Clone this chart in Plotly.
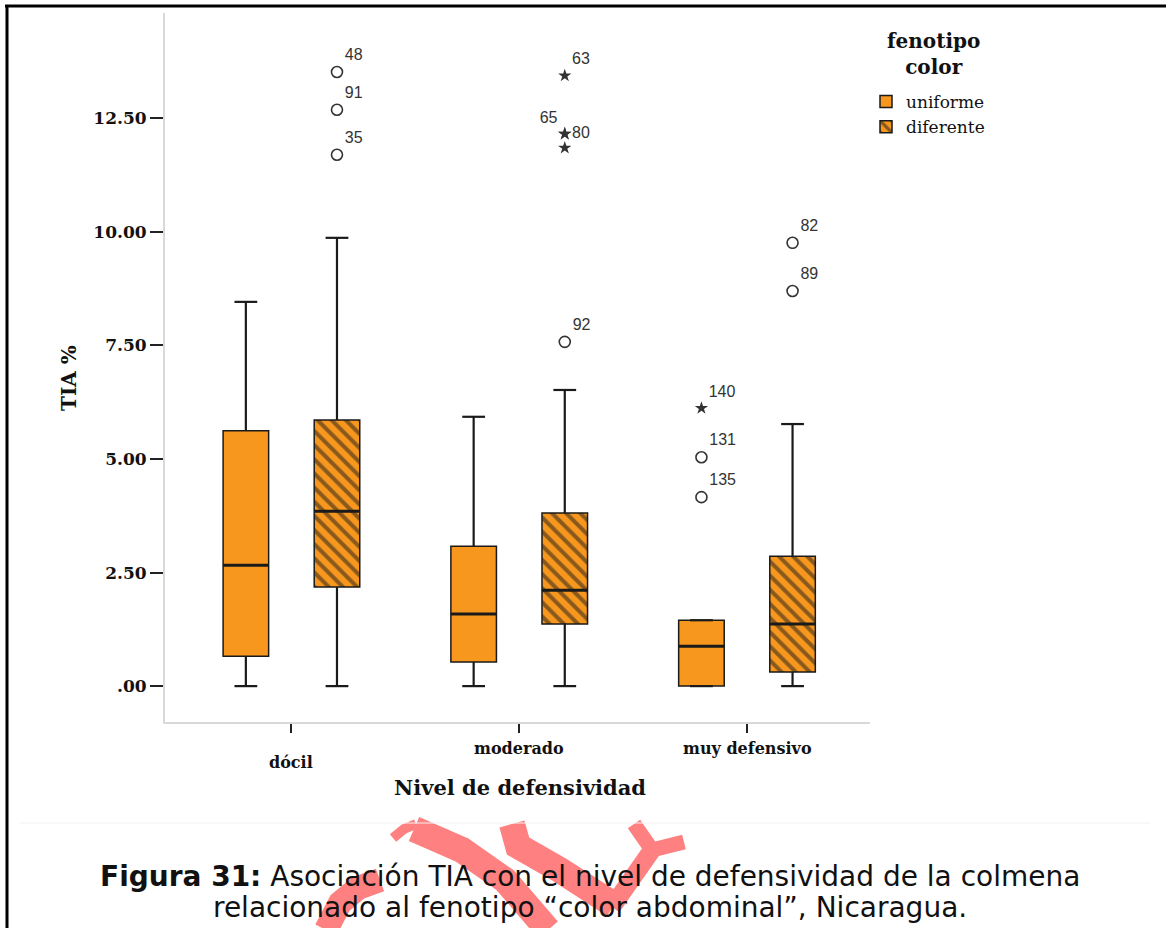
import plotly.graph_objects as go

# ---- data -------------------------------------------------------------
categories = ["dócil", "moderado", "muy defensivo"]
cat_pos = [0, 1, 2]
y_tick_vals = [0, 2.5, 5.0, 7.5, 10.0, 12.5]
y_tick_text = [".00", "2.50", "5.00", "7.50", "10.00", "12.50"]

# fenotipo color = uniforme
uni_q1 = [0.66, 0.53, 0.00]
uni_med = [2.66, 1.59, 0.88]
uni_q3 = [5.62, 3.08, 1.45]
uni_lo = [0.00, 0.00, 0.00]
uni_hi = [8.46, 5.93, 1.45]
uni_out_cat = [2, 2, 2]
uni_out_val = [6.12, 5.04, 4.16]
uni_out_id = ["140", "131", "135"]
uni_out_extreme = [True, False, False]

# fenotipo color = diferente
dif_q1 = [2.18, 1.37, 0.31]
dif_med = [3.85, 2.11, 1.37]
dif_q3 = [5.86, 3.81, 2.86]
dif_lo = [0.00, 0.00, 0.00]
dif_hi = [9.87, 6.52, 5.77]
dif_out_cat = [0, 0, 0, 1, 1, 1, 1, 1, 2, 2]
dif_out_val = [13.52, 12.69, 11.70, 7.58, 13.44, 12.16, 12.16, 11.85, 9.76, 8.70]
dif_out_id = ["48", "91", "35", "92", "63", "65", "80", "", "82", "89"]
dif_out_extreme = [False, False, False, False, True, True, True, True, False, False]

# ---- styling ----------------------------------------------------------
ORANGE = "#F7971E"
INK = "#1a1a1a"
SERIF = "DejaVu Serif"
BOX_W = 0.2
CAP_W = 0.1
OFFSET = 0.2
LABEL_POS = {"65": "top left", "80": "middle right"}

PLOT_L, PLOT_R, PLOT_T, PLOT_B = 165, 870, 13, 722


def px(xp):
    return (xp - PLOT_L) / (PLOT_R - PLOT_L)


def py(yp):
    return (PLOT_B - yp) / (PLOT_B - PLOT_T)


fig = go.Figure()

series = [
    ("uniforme", uni_q1, uni_med, uni_q3, uni_lo, uni_hi, -OFFSET, "",
     uni_out_cat, uni_out_val, uni_out_id, uni_out_extreme),
    ("diferente", dif_q1, dif_med, dif_q3, dif_lo, dif_hi, OFFSET, "\\",
     dif_out_cat, dif_out_val, dif_out_id, dif_out_extreme),
]

for (name, q1, med, q3, lo, hi, off, shape,
     o_cat, o_val, o_id, o_ext) in series:
    xs = [p + off for p in cat_pos]

    # box body (Q1..Q3)
    fig.add_trace(go.Bar(
        x=xs, y=[b - a for a, b in zip(q1, q3)], base=q1, width=BOX_W,
        name=name, hoverinfo="skip",
        marker=dict(color=ORANGE, line=dict(color=INK, width=1.5),
                    pattern=dict(shape=shape, fgcolor=INK, bgcolor=ORANGE,
                                 size=10, solidity=0.4)),
    ))

    # whiskers with caps
    wx, wy = [], []
    for x, a, b, l, h in zip(xs, q1, q3, lo, hi):
        wx += [x, x, None, x - CAP_W / 2, x + CAP_W / 2, None,
               x, x, None, x - CAP_W / 2, x + CAP_W / 2, None]
        wy += [b, h, None, h, h, None, a, l, None, l, l, None]
    fig.add_trace(go.Scatter(x=wx, y=wy, mode="lines", showlegend=False,
                             hoverinfo="skip",
                             line=dict(color=INK, width=2.2)))

    # medians
    mx, my = [], []
    for x, m in zip(xs, med):
        mx += [x - BOX_W / 2, x + BOX_W / 2, None]
        my += [m, m, None]
    fig.add_trace(go.Scatter(x=mx, y=my, mode="lines", showlegend=False,
                             hoverinfo="skip",
                             line=dict(color=INK, width=3)))

    # outliers (circles) and extremes (stars)
    for extreme in (False, True):
        idx = [i for i, e in enumerate(o_ext) if e == extreme]
        if not idx:
            continue
        fig.add_trace(go.Scatter(
            x=[cat_pos[o_cat[i]] + off for i in idx],
            y=[o_val[i] for i in idx],
            text=[o_id[i] for i in idx],
            textposition=[LABEL_POS.get(o_id[i], "top right") for i in idx],
            mode="markers+text", showlegend=False, hoverinfo="skip",
            textfont=dict(family="Liberation Sans", size=16, color="#333"),
            marker=(dict(symbol="star", size=10, color="#333",
                         line=dict(width=0))
                    if extreme else
                    dict(symbol="circle-open", size=11, color="#333",
                         line=dict(width=1.6))),
        ))

# ---- annotations --------------------------------------------------------
def note(text, xp, yp, size, family=SERIF, angle=0, xref="paper", x=None):
    return dict(x=px(xp) if x is None else x, y=py(yp), xref=xref,
                yref="paper", text=text, showarrow=False, textangle=angle,
                xanchor="center", yanchor="middle", align="center",
                font=dict(family=family, size=size, color="#111"))


annotations = []
cat_label_y = [763, 748, 748]
for p, c, yy in zip(cat_pos, categories, cat_label_y):
    annotations.append(note(f"<b>{c}</b>", None, yy, 16, xref="x", x=p))
annotations.append(note("<b>Nivel de defensividad</b>", 520, 787, 21))
annotations.append(note("<b>TIA %</b>", 69, 378, 20, angle=-90))
annotations.append(note("<b>fenotipo</b><br><b>color</b>", 933, 54, 20))
annotations.append(note("<b>Figura 31:</b> Asociación TIA con el nivel de "
                        "defensividad de la colmena", 590, 876, 28,
                        family="DejaVu Sans"))
annotations.append(note("relacionado al fenotipo “color abdominal”, "
                        "Nicaragua.", 590, 907, 28, family="DejaVu Sans"))

# ---- page decorations -----------------------------------------------------
WM = "#FF8080"


def path(points):
    return "M " + " L ".join(f"{px(a)},{py(b)}" for a, b in points)


shapes = [
    # frame
    dict(type="line", xref="paper", yref="paper", x0=px(5), x1=px(1166),
         y0=py(6), y1=py(6), line=dict(color="#000", width=3)),
    dict(type="line", xref="paper", yref="paper", x0=px(7), x1=px(7),
         y0=py(5), y1=py(928), line=dict(color="#000", width=3)),
    # faint separator
    dict(type="line", xref="paper", yref="paper", x0=px(20), x1=px(1150),
         y0=py(823), y1=py(823), line=dict(color="#f2f2f2", width=1)),
]
for pts, w in [
    ([(393, 838), (404, 829), (416, 824)], 10),
    ([(414, 829), (462, 850), (505, 880), (548, 930)], 26),
    ([(512, 824), (518, 846), (560, 870), (614, 905)], 26),
    ([(612, 907), (652, 850)], 18),
    ([(634, 824), (652, 850), (684, 842)], 15),
    ([(326, 930), (340, 903), (358, 888), (380, 880)], 24),
]:
    shapes.append(dict(type="path", xref="paper", yref="paper",
                       path=path(pts), line=dict(color=WM, width=w),
                       layer="below"))

fig.update_layout(
    width=1166, height=928,
    margin=dict(l=PLOT_L, r=1166 - PLOT_R, t=PLOT_T, b=928 - PLOT_B),
    paper_bgcolor="white", plot_bgcolor="white",
    barmode="overlay",
    showlegend=True,
    legend=dict(
        x=px(866), y=py(84), xanchor="left", yanchor="top",
        font=dict(family=SERIF, size=17, color="#111"),
        bgcolor="rgba(0,0,0,0)", tracegroupgap=0,
    ),
    xaxis=dict(range=[-0.555, 2.54], tickvals=cat_pos, showticklabels=False,
               ticks="outside", ticklen=9, tickwidth=2, tickcolor="#222",
               showline=True, linecolor="#d9d9d9", linewidth=2,
               showgrid=False, zeroline=False),
    yaxis=dict(range=[-0.79, 14.82], tickvals=y_tick_vals,
               ticktext=[f"<b>{t}</b>" for t in y_tick_text],
               ticks="outside", ticklen=13,
               tickwidth=2, tickcolor="#222",
               tickfont=dict(family=SERIF, size=17, color="#111"),
               showline=True, linecolor="#d9d9d9", linewidth=2,
               showgrid=False, zeroline=False),
    annotations=annotations,
    shapes=shapes,
)

fig.write_html("out.html")
